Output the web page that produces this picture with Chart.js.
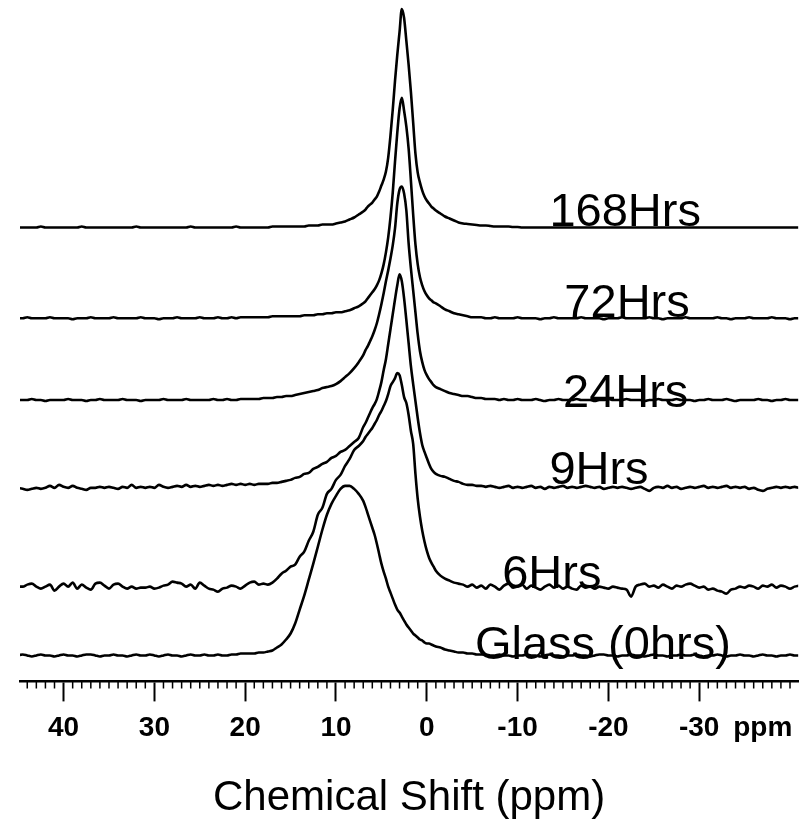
<!DOCTYPE html>
<html>
<head>
<meta charset="utf-8">
<title>Chemical Shift</title>
<script src="https://cdn.jsdelivr.net/npm/chart.js@4.4.1/dist/chart.umd.min.js"></script>
<style>
  html, body { margin: 0; padding: 0; background: #fff; }
  #wrap { width: 800px; height: 821px; }
</style>
</head>
<body>
<div id="wrap"><canvas id="chart" width="800" height="821"></canvas></div>
<script>
// chemical shift grid (ppm), finer around the main peaks
const ppm = [
  45, 44.5, 44, 43.5, 43, 42.5, 42, 41.5, 41, 40.5,
  40, 39.5, 39, 38.5, 38, 37.5, 37, 36.5, 36, 35.5,
  35, 34.5, 34, 33.5, 33, 32.5, 32, 31.5, 31, 30.5,
  30, 29.5, 29, 28.5, 28, 27.5, 27, 26.5, 26, 25.5,
  25, 24.5, 24, 23.5, 23, 22.5, 22, 21.5, 21, 20.5,
  20, 19.5, 19, 18.5, 18, 17.5, 17, 16.5, 16, 15.5,
  15, 14.5, 14, 13.5, 13, 12.5, 12, 11.5, 11, 10.5,
  10, 9.5, 9, 8.5, 8, 7.5, 7,
  6.75, 6.5, 6.25, 6, 5.75, 5.5, 5.25, 5, 4.75, 4.5,
  4.25, 4, 3.75, 3.5, 3.25, 3, 2.75, 2.5, 2.25, 2,
  1.75, 1.5, 1.25, 1, 0.75, 0.5, 0.25, 0, -0.25, -0.5,
  -0.75,
  -1, -1.5, -2, -2.5, -3, -3.5, -4, -4.5, -5, -5.5,
  -6, -6.5, -7, -7.5, -8, -8.5, -9, -9.5, -10, -10.5,
  -11, -11.5, -12, -12.5, -13, -13.5, -14, -14.5, -15, -15.5,
  -16, -16.5, -17, -17.5, -18, -18.5, -19, -19.5, -20, -20.5,
  -21, -21.5, -22, -22.5, -23, -23.5, -24, -24.5, -25, -25.5,
  -26, -26.5, -27, -27.5, -28, -28.5, -29, -29.5, -30, -30.5,
  -31, -31.5, -32, -32.5, -33, -33.5, -34, -34.5, -35, -35.5,
  -36, -36.5, -37, -37.5, -38, -38.5, -39, -39.5, -40, -40.5,
  -41
];

// intensities above each trace's own baseline
const glass = [
  0, 1, 0, -1, 0, 1, 0, 0, -1, 0,
  1, 0, 0, -1, 0, 1, 1, 0, -1, 0,
  0, 1, 0, 0, -1, 0, 1, 0, 0, 1,
  0, -1, 0, 1, 0, 0, -1, 0, 1, 0,
  0, 1, 0, 0, 1, 0, 0, 1, 1, 2,
  2, 2, 2, 3, 3, 4, 5, 8, 11, 16,
  22, 32, 46, 60, 76, 92, 109, 126, 141, 152,
  160, 167, 170, 170, 167, 162, 155,
  149, 142, 135, 128, 121, 112, 102, 92, 84, 77,
  69, 63, 57, 51, 46, 43, 39, 35, 31, 28,
  25, 22, 20, 18, 16, 15, 13, 12, 12, 11,
  10,
  9, 8, 6, 5, 4, 3, 3, 2, 2, 1,
  1, 1, 0, 0, 1, 0, 0, -1, 0, 0,
  1, 0, 0, -1, 0, 1, 0, 0, -1, 0,
  0, 1, 0, 0, -1, 0, 1, 1, 0, 0,
  -1, 0, 0, 1, 0, 0, -1, 0, 1, 0,
  0, -1, 0, 0, 1, 0, 0, 1, 0, -1,
  0, 0, 1, 0, -1, 0, 0, 1, 0, 0,
  -1, 0, 1, 0, 0, -1, 0, 0, 1, 0,
  0
];

const hrs6 = [
  0, 0, 2, 3, 0, -2, 0, 2, -4, 0,
  3, 0, 4, -2, 2, -1, -3, 3, 4, 1,
  -2, 2, 3, 0, -2, 0, -2, -1, -1, 0,
  -2, -1, 1, 2, 5, 4, 3, 0, 2, -2,
  4, 1, -2, -3, -5, -2, -1, 1, 0, -2,
  1, 4, 5, 2, 3, 2, 4, 8, 13, 16,
  20, 22, 30, 35, 46, 55, 72, 79, 93, 98,
  107, 112, 121, 128, 137, 141, 146,
  150, 153, 156, 159, 163, 167, 172, 176, 181, 186,
  193, 201, 205, 209, 214, 212, 202, 190, 184, 172,
  156, 143, 113, 88, 70, 56, 45, 36, 29, 24,
  20,
  16, 11, 8, 6, 4, 3, 2, 0, 2, -1,
  1, -2, 2, 0, -3, 1, 3, -1, 0, 2,
  -2, 1, -1, -3, 0, 2, -1, 1, -2, 0,
  -2, -3, 1, -1, 0, -2, 0, -1, -2, 0,
  -1, -2, -3, -10, 0, 2, 3, 0, 1, -1,
  2, 0, -2, 1, 0, 2, 3, 1, -1, 0,
  -3, -2, -4, -5, -7, -3, -2, 0, -1, 1,
  0, -2, 1, 0, 2, -1, 1, 0, -2, 0,
  1
];

const hrs9 = [
  0, -1, -2, -1, 0, -1, 0, 2, 0, 3,
  1, 0, 2, 0, -1, -2, 0, 0, 1, 0,
  1, 0, -1, 1, 0, 3, 0, 1, 0, 1,
  0, 3, 1, 0, 1, 2, 1, 3, 1, 2,
  1, 2, 3, 2, 3, 2, 3, 4, 3, 4,
  3, 4, 3, 4, 4, 4, 5, 5, 6, 7,
  8, 10, 11, 14, 15, 19, 21, 24, 26, 30,
  32, 36, 38, 42, 46, 50, 61,
  65, 70, 75, 80, 84, 89, 97, 106, 118, 129,
  144, 159, 174, 189, 203, 214, 207, 190, 168, 145,
  122, 104, 87, 70, 55, 43, 36, 30, 24, 19,
  16,
  14, 12, 11, 9, 7, 6, 4, 3, 3, 2,
  2, 1, 2, 1, 0, 1, 2, 0, 1, 0,
  1, 2, 0, 1, -1, 1, 0, 1, 2, 0,
  1, 0, 1, 2, 1, 0, 1, -1, 0, 1,
  0, 1, 0, -1, 0, 1, -1, -3, 0, 1,
  0, 2, 0, 1, -1, 0, 1, 0, 1, 2,
  0, 1, 0, 1, 2, 0, 1, 0, 1, -1,
  0, -2, -3, -1, 0, 1, 0, 1, 0, 1,
  0
];

const hrs24 = [
  0, 0, 0, 1, 0, 0, -1, 0, 0, 0,
  0, 1, 0, 0, 0, -1, 0, 0, 1, 0,
  0, 0, 0, 1, 0, 0, 0, -1, 0, 0,
  0, 0, 1, 0, 0, 0, 0, 1, 0, 0,
  0, 0, 0, 1, 0, 0, 1, 0, 0, 1,
  1, 1, 1, 1, 2, 2, 2, 3, 3, 4,
  4, 5, 6, 7, 8, 9, 10, 12, 13, 14,
  16, 19, 23, 27, 32, 38, 45,
  50, 54, 59, 64, 70, 77, 86, 96, 107, 119,
  130, 142, 155, 172, 197, 211, 214, 207, 190, 157,
  132, 110, 88, 66, 49, 38, 30, 25, 21, 18,
  15,
  13, 11, 9, 7, 6, 5, 4, 4, 3, 2,
  2, 1, 1, 1, 0, 1, 0, 0, 1, 0,
  0, 0, 1, 0, -1, 0, 0, 1, 0, 0,
  0, 1, 0, 0, 0, -1, 0, 0, 1, 0,
  0, 0, 1, 0, 0, 0, -1, 0, 0, 1,
  0, 0, 0, 1, 0, 0, 0, -1, 0, 0,
  1, 0, 0, 0, 1, 0, -1, 0, 0, 0,
  0, 1, 0, 0, -1, 0, 0, 1, 0, 0,
  0
];

const hrs72 = [
  0, 0, 1, 0, 0, 0, 0, 1, 0, 0,
  0, 0, -1, 0, 0, 0, 1, 0, 0, 0,
  0, 1, 0, 0, 0, 0, 0, 1, 0, 0,
  0, -1, 0, 0, 0, 1, 0, 0, 0, 0,
  1, 0, 0, 0, 1, 0, 0, 1, 0, 1,
  1, 1, 1, 1, 1, 1, 2, 2, 2, 2,
  2, 2, 2, 3, 3, 3, 4, 4, 5, 5,
  6, 6, 7, 8, 10, 12, 15,
  17, 20, 23, 26, 29, 33, 38, 45, 54, 66,
  81, 101, 126, 157, 186, 210, 221, 208, 192, 170,
  138, 104, 74, 54, 41, 33, 27, 23, 20, 18,
  16,
  15, 12, 9, 7, 5, 4, 3, 2, 1, 1,
  1, 0, 0, 1, 0, 0, 0, 0, 1, 0,
  0, 0, 0, -1, 0, 0, 1, 0, 0, 0,
  0, 0, 1, 0, 0, 0, 0, -1, 0, 0,
  0, 1, 0, 0, 0, 0, 0, 1, 0, 0,
  -1, 0, 0, 0, 0, 1, 0, 0, 0, 0,
  0, 0, 1, 0, 0, -1, 0, 0, 0, 1,
  0, 0, 0, 0, 1, 0, 0, 0, -1, 0,
  0
];

const hrs168 = [
  0, 0, 0, 0, 0, 1, 0, 0, 0, 0,
  0, 0, 0, 0, 1, 0, 0, 0, 0, 0,
  0, 0, 0, 0, 0, 0, 1, 0, 0, 0,
  0, 0, 0, 0, 0, 0, 0, 0, 1, 0,
  0, 0, 0, 0, 0, 0, 0, 0, 1, 0,
  0, 0, 0, 0, 0, 0, 1, 1, 1, 1,
  1, 1, 1, 1, 2, 2, 2, 3, 3, 3,
  4, 5, 6, 8, 10, 13, 16,
  18, 21, 23, 25, 28, 31, 36, 42, 48, 56,
  70, 92, 118, 147, 173, 196, 219, 210, 187, 163,
  136, 105, 74, 55, 45, 37, 31, 27, 24, 21,
  19,
  17, 14, 11, 9, 7, 5, 4, 3.5, 3, 2.5,
  2, 2, 1.5, 1, 1, 1, 1, 0.5, 0.5, 0,
  0, 0, 0, 0, 0, 0, 0, 0, 0, 0,
  0, 0, 0, 0, 0, 0, 0, 0, 0, 0,
  0, 0, 0, 0, 0, 0, 0, 0, 0, 0,
  0, 0, 0, 0, 0, 0, 0, 0, 0, 0,
  0, 0, 0, 0, 0, 0, 0, 0, 0, 0,
  0, 0, 0, 0, 0, 0, 0, 0, 0, 0,
  0
];

const seriesNames = ['Glass (0hrs)', '6Hrs', '9Hrs', '24Hrs', '72Hrs', '168Hrs'];
const seriesValues = [glass, hrs6, hrs9, hrs24, hrs72, hrs168];
// stacking offset of each trace (y units)
const baselines = [26, 95, 194, 282, 364, 455];

const majorTicks = [40, 30, 20, 10, 0, -10, -20, -30];
const unitTick = -37;

// where the trace names sit: left edge in ppm, text baseline in y units
const labelPpm = [-5.3, -8.3, -13.5, -15.0, -15.15, -13.5];
const labelBase = [22, 94, 198, 275, 365, 456];

seriesValues.forEach((vals, i) => {
    if (vals.length !== ppm.length) {
        throw new Error(seriesNames[i] + ' has ' + vals.length + ' values, expected ' + ppm.length);
    }
});

const isMajor = v => majorTicks.includes(Math.round(v));

const minorTicks = {
    id: 'minorTicks',
    afterDraw(chart) {
        const {ctx, chartArea, scales: {x}} = chart;
        ctx.save();
        ctx.strokeStyle = '#000';
        ctx.lineWidth = 1.5;
        ctx.beginPath();
        for (const t of x.ticks) {
            if (isMajor(t.value)) continue;
            const px = x.getPixelForValue(t.value);
            ctx.moveTo(px, chartArea.bottom);
            ctx.lineTo(px, chartArea.bottom + 7);
        }
        ctx.stroke();
        ctx.restore();
    }
};

const traceLabels = {
    id: 'traceLabels',
    afterDatasetsDraw(chart) {
        const {ctx, scales: {x, y}} = chart;
        ctx.save();
        ctx.font = '47px "Liberation Sans", Arial, sans-serif';
        ctx.fillStyle = '#000';
        ctx.textAlign = 'left';
        ctx.textBaseline = 'alphabetic';
        seriesNames.forEach((name, i) => {
            ctx.fillText(name, x.getPixelForValue(labelPpm[i]), y.getPixelForValue(labelBase[i]));
        });
        ctx.restore();
    }
};

const datasets = seriesValues.map((vals, i) => ({
    label: seriesNames[i],
    data: ppm.map((p, k) => ({x: p, y: baselines[i] + vals[k]})),
    borderColor: '#000',
    borderWidth: 2.6,
    pointRadius: 0,
    cubicInterpolationMode: 'monotone',
    fill: false
}));

Chart.defaults.color = '#000';

const config = {
    type: 'line',
    data: {datasets: datasets},
    options: {
        responsive: false,
        animation: false,
        layout: {padding: {left: 20, right: 0, top: 0, bottom: 0}},
        plugins: {
            legend: {display: false},
            tooltip: {enabled: false}
        },
        scales: {
            x: {
                type: 'linear',
                reverse: true,
                min: -40.9,
                max: 44.8,
                border: {display: true, color: '#000', width: 2.5},
                grid: {
                    drawOnChartArea: false,
                    drawTicks: true,
                    tickLength: 20,
                    tickWidth: 2,
                    tickColor: ctx => isMajor(ctx.tick.value) ? '#000' : 'rgba(0,0,0,0)'
                },
                ticks: {
                    stepSize: 1,
                    includeBounds: false,
                    autoSkip: false,
                    maxRotation: 0,
                    padding: 10,
                    color: '#000',
                    font: {family: "'Liberation Sans Narrow', 'Arial Narrow', 'Liberation Sans', sans-serif", weight: 'bold', size: 28},
                    callback: v => {
                        const r = Math.round(v);
                        if (isMajor(r)) return String(r);
                        if (r === unitTick) return 'ppm';
                        return '';
                    }
                },
                title: {
                    display: true,
                    text: 'Chemical Shift (ppm)',
                    color: '#000',
                    font: {family: "'Liberation Sans', Arial, sans-serif", size: 42, lineHeight: 1},
                    padding: {top: 22, bottom: 2}
                }
            },
            y: {
                display: false,
                min: 0,
                max: 683
            }
        }
    },
    plugins: [minorTicks, traceLabels]
};

const chart = new Chart(document.getElementById('chart'), config);
</script>
</body>
</html>
